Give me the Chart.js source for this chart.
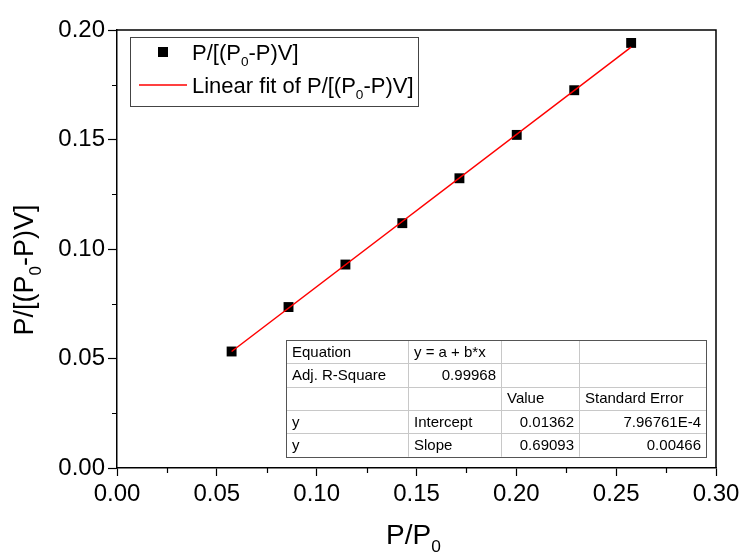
<!DOCTYPE html>
<html lang="en">
<head>
    <meta charset="UTF-8">
    <title>P/[(P0-P)V] vs P/P0</title>
    <script src="https://cdn.jsdelivr.net/npm/chart.js"></script>
    <style>
        body { margin: 0; background: #fff; }
        #wrap { width: 739px; height: 553px; }
    </style>
</head>
<body>
<div id="wrap"><canvas id="fitChart" width="739" height="553"></canvas></div>

<script>
    // measured points
    const xVals = [0.0574, 0.0859, 0.1144, 0.1429, 0.1715, 0.2002, 0.2290, 0.2575];
    const yVals = [0.0532, 0.0735, 0.0929, 0.1118, 0.1323, 0.1521, 0.1725, 0.1941];
    // linear fit drawn between first and last x
    const fitX = [0.0574, 0.2575];
    const fitY = [0.0532, 0.1922];

    const xMinor = [0.025, 0.075, 0.125, 0.175, 0.225, 0.275];
    const yMinor = [0.025, 0.075, 0.125, 0.175];

    const tableRows = [
        ['Equation', 'y = a + b*x', '', ''],
        ['Adj. R-Square', '0.99968', '', ''],
        ['', '', 'Value', 'Standard Error'],
        ['y', 'Intercept', '0.01362', '7.96761E-4'],
        ['y', 'Slope', '0.69093', '0.00466']
    ];

    const FONT = '"Liberation Sans", Arial, sans-serif';

    // text with subscript pieces: [text, isSub]
    function richWidth(ctx, parts, size) {
        let w = 0;
        parts.forEach(p => {
            ctx.font = (p[1] ? size * 0.62 : size) + 'px ' + FONT;
            w += ctx.measureText(p[0]).width;
        });
        return w;
    }
    function drawRich(ctx, parts, x, y, size) {
        ctx.textBaseline = 'alphabetic';
        ctx.textAlign = 'left';
        parts.forEach(p => {
            ctx.font = (p[1] ? size * 0.62 : size) + 'px ' + FONT;
            ctx.fillText(p[0], x, p[1] ? y + size * 0.28 : y);
            x += ctx.measureText(p[0]).width;
        });
    }

    const seriesName = [['P/[(P', 0], ['0', 1], ['-P)V]', 0]];
    const fitName = [['Linear fit of P/[(P', 0], ['0', 1], ['-P)V]', 0]];
    const xTitle = [['P/P', 0], ['0', 1]];

    const decorPlugin = {
        id: 'decor',
        afterDraw(chart) {
            const ctx = chart.ctx;
            const a = chart.chartArea;
            const xs = chart.scales.x, ys = chart.scales.y;
            ctx.save();

            // top + right frame
            ctx.strokeStyle = '#000';
            ctx.lineWidth = 1.5;
            ctx.beginPath();
            ctx.moveTo(a.left, a.top); ctx.lineTo(a.right, a.top); ctx.lineTo(a.right, a.bottom);
            ctx.stroke();

            // minor ticks
            ctx.lineWidth = 1.2;
            ctx.beginPath();
            xMinor.forEach(v => {
                const px = Math.round(xs.getPixelForValue(v)) + 0.5;
                ctx.moveTo(px, a.bottom); ctx.lineTo(px, a.bottom + 5);
            });
            yMinor.forEach(v => {
                const py = Math.round(ys.getPixelForValue(v)) + 0.5;
                ctx.moveTo(a.left, py); ctx.lineTo(a.left - 5, py);
            });
            ctx.stroke();

            // axis titles
            ctx.fillStyle = '#000';
            const tSize = 27;
            const xw = richWidth(ctx, xTitle, 28);
            drawRich(ctx, xTitle, (a.left + a.right) / 2 - xw / 2 - 3, 544, 28);

            ctx.save();
            ctx.translate(33, 270);
            ctx.rotate(-Math.PI / 2);
            const yw = richWidth(ctx, seriesName, tSize);
            drawRich(ctx, seriesName, -yw / 2, 0, tSize);
            ctx.restore();

            // legend box
            ctx.strokeStyle = '#444';
            ctx.lineWidth = 1;
            ctx.strokeRect(130.5, 37.5, 288, 69);
            ctx.fillStyle = '#000';
            ctx.fillRect(158, 47, 10, 10);
            ctx.strokeStyle = '#ff0000';
            ctx.lineWidth = 1.5;
            ctx.beginPath();
            ctx.moveTo(139, 85); ctx.lineTo(187, 85);
            ctx.stroke();
            drawRich(ctx, seriesName, 192, 60, 22);
            drawRich(ctx, fitName, 192, 93, 22);

            // fit table
            const colX = [286, 408, 501, 579, 706];
            const rowY = [340, 363.3, 386.7, 410, 433.3, 456.7];
            ctx.fillStyle = '#fff';
            ctx.fillRect(colX[0], rowY[0], colX[4] - colX[0], rowY[5] - rowY[0]);
            ctx.strokeStyle = '#c8c8c8';
            ctx.lineWidth = 1;
            ctx.beginPath();
            for (let i = 1; i < 5; i++) {
                const y = Math.round(rowY[i]) + 0.5;
                ctx.moveTo(colX[0], y); ctx.lineTo(colX[4], y);
            }
            for (let j = 1; j < 4; j++) {
                ctx.moveTo(colX[j] + 0.5, rowY[0]); ctx.lineTo(colX[j] + 0.5, rowY[5]);
            }
            ctx.stroke();
            ctx.strokeStyle = '#555';
            ctx.strokeRect(colX[0] + 0.5, Math.round(rowY[0]) + 0.5, colX[4] - colX[0], Math.round(rowY[5] - rowY[0]));

            ctx.fillStyle = '#000';
            ctx.font = '15px ' + FONT;
            ctx.textBaseline = 'middle';
            tableRows.forEach((row, i) => {
                const cy = (rowY[i] + rowY[i + 1]) / 2 + 1;
                row.forEach((txt, j) => {
                    if (!txt) return;
                    const numeric = /^[0-9.]/.test(txt);
                    if (numeric) {
                        ctx.textAlign = 'right';
                        ctx.fillText(txt, colX[j + 1] - 5, cy);
                    } else {
                        ctx.textAlign = 'left';
                        ctx.fillText(txt, colX[j] + 6, cy);
                    }
                });
            });

            ctx.restore();
        }
    };

    const ctx = document.getElementById('fitChart').getContext('2d');
    new Chart(ctx, {
        type: 'scatter',
        data: {
            datasets: [
                {
                    label: 'Linear fit',
                    data: fitX.map((x, i) => ({ x: x, y: fitY[i] })),
                    showLine: true,
                    borderColor: '#ff0000',
                    borderWidth: 1.5,
                    pointRadius: 0,
                    order: 0
                },
                {
                    label: 'P/[(P0-P)V]',
                    data: xVals.map((x, i) => ({ x: x, y: yVals[i] })),
                    pointStyle: 'rect',
                    pointRadius: 7,
                    backgroundColor: '#000',
                    borderColor: '#000',
                    borderWidth: 0,
                    order: 1
                }
            ]
        },
        options: {
            responsive: false,
            animation: false,
            layout: { padding: { top: 30, right: 23, left: 0, bottom: 0 } },
            plugins: { legend: { display: false }, tooltip: { enabled: false } },
            scales: {
                x: {
                    type: 'linear',
                    min: 0, max: 0.30,
                    afterFit: s => { s.height = 85; s.paddingRight = 0; s.paddingLeft = 0; },
                    ticks: {
                        stepSize: 0.05,
                        color: '#000',
                        padding: 4,
                        font: { family: FONT, size: 24 },
                        callback: v => v.toFixed(2)
                    },
                    grid: { drawOnChartArea: false, tickLength: 8, color: '#000', tickWidth: 1.2 },
                    border: { color: '#000', width: 1.5 }
                },
                y: {
                    type: 'linear',
                    min: 0, max: 0.20,
                    afterFit: s => { s.width = 117; s.paddingTop = 0; s.paddingBottom = 0; },
                    ticks: {
                        stepSize: 0.05,
                        color: '#000',
                        padding: 3,
                        font: { family: FONT, size: 24 },
                        callback: v => v.toFixed(2)
                    },
                    grid: { drawOnChartArea: false, tickLength: 9, color: '#000', tickWidth: 1.2 },
                    border: { color: '#000', width: 1.5 }
                }
            }
        },
        plugins: [decorPlugin]
    });
</script>
</body>
</html>
